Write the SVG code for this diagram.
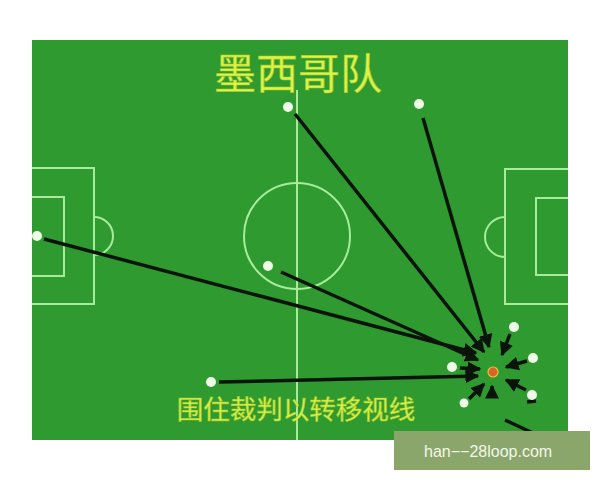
<svg xmlns="http://www.w3.org/2000/svg" width="600" height="480" viewBox="0 0 600 480">
<defs>
<style>
.pitch{fill:none;stroke:#a6ec9a;stroke-width:2}
.dot{fill:#eefbe6}
.run{stroke:#0b140b;stroke-width:3.5;fill:none}
.title{font-family:"Noto Sans CJK SC","Noto Sans CJK JP",sans-serif;fill:#dcf446;stroke:#a8c832;stroke-width:0.6}
</style>
<marker id="ah" viewBox="0 0 10 10" refX="9" refY="5" markerWidth="4" markerHeight="4" orient="auto" markerUnits="strokeWidth">
<path d="M0,0L10,5L0,10z" fill="#0b140b"/>
</marker>
</defs>
<rect width="600" height="480" fill="#ffffff"/>
<g id="field">
<rect x="32" y="40" width="536" height="400" fill="#2f9a2f"/>
<line class="pitch" x1="297" y1="90" x2="297" y2="440"/>
<circle class="pitch" cx="297" cy="236" r="53"/>
<polyline class="pitch" points="32,168 94,168 94,304 32,304"/>
<polyline class="pitch" points="32,197 64,197 64,276 32,276"/>
<path class="pitch" d="M94,217 A19,19 0 0 1 94,255"/>
<polyline class="pitch" points="568,169 505,169 505,304 568,304"/>
<polyline class="pitch" points="568,198 536,198 536,275 568,275"/>
<path class="pitch" d="M505,217 A19,19 0 0 0 505,257"/>
</g>
<g id="connectors">
<line class="run" x1="295" y1="114" x2="484" y2="352" marker-end="url(#ah)"/>
<line class="run" x1="423" y1="118" x2="489" y2="347" marker-end="url(#ah)"/>
<line class="run" x1="44" y1="239" x2="476" y2="353" marker-end="url(#ah)"/>
<line class="run" x1="281" y1="272" x2="478" y2="360" marker-end="url(#ah)"/>
<line class="run" x1="219" y1="382" x2="478" y2="376" marker-end="url(#ah)"/>
<line class="run" x1="510" y1="334" x2="502" y2="355" marker-end="url(#ah)"/>
<line class="run" x1="527" y1="361" x2="506" y2="367" marker-end="url(#ah)"/>
<line class="run" x1="526" y1="390" x2="506" y2="380" marker-end="url(#ah)"/>
<line class="run" x1="469" y1="399" x2="484" y2="384" marker-end="url(#ah)"/>
<line class="run" x1="460" y1="368" x2="480" y2="369" marker-end="url(#ah)"/>
<line class="run" x1="492" y1="396" x2="492" y2="386" marker-end="url(#ah)"/>
<line class="run" x1="527" y1="402" x2="536" y2="401" stroke-width="2.5"/>
<line class="run" x1="505" y1="420" x2="535" y2="434" stroke-width="2.5"/>
</g>
<g id="players">
<circle class="dot" cx="288" cy="107" r="5"/>
<circle class="dot" cx="419" cy="104" r="5"/>
<circle class="dot" cx="37" cy="236" r="5"/>
<circle class="dot" cx="268" cy="266" r="5"/>
<circle class="dot" cx="211" cy="382" r="5"/>
<circle class="dot" cx="514" cy="327" r="5"/>
<circle class="dot" cx="533" cy="358" r="5"/>
<circle class="dot" cx="452" cy="367" r="5"/>
<circle class="dot" cx="532" cy="395" r="5"/>
<circle class="dot" cx="464" cy="403" r="4.5"/>
</g>
<g id="referee">
<circle cx="493" cy="372" r="5" fill="#d9642a" stroke="#e6c040" stroke-width="1.2"/>
</g>
<g id="title">
<text class="title" x="298" y="89" font-size="42" text-anchor="middle">墨西哥队</text>
</g>
<g id="caption">
<text class="title" x="296" y="419" font-size="26.5" text-anchor="middle">围住裁判以转移视线</text>
</g>
<g id="watermark">
<rect x="394" y="431" width="196" height="39" fill="#8ba66a"/>
<text x="424" y="457" font-family="Liberation Sans,Arial,sans-serif" font-size="16" fill="#f3f6ea">han−−28loop.com</text>
</g>
</svg>
